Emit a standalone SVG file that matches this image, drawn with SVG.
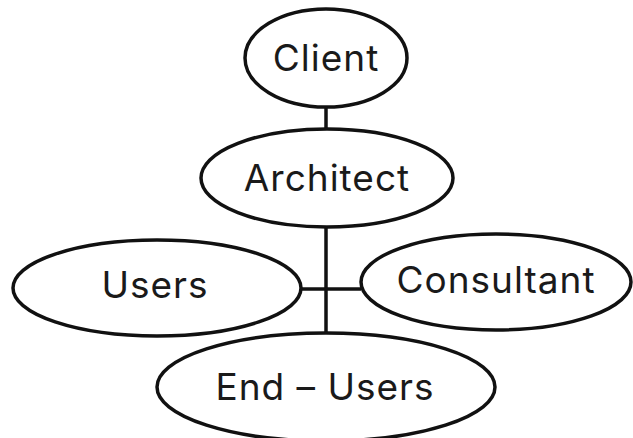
<svg xmlns="http://www.w3.org/2000/svg" width="633" height="438" viewBox="0 0 633 438">
  <style>
    .node ellipse { fill: #ffffff; stroke: #111111; stroke-width: 3.5; }
    .node text { font-family: Inter, "Liberation Sans", sans-serif; font-size: 37px; letter-spacing: 1px; fill: #1a1a1a; text-anchor: middle; }
    .links line { stroke: #111111; stroke-width: 3.5; }
  </style>
  <rect width="633" height="438" fill="#ffffff"/>

  <!-- connectors -->
  <g id="connectors" class="links">
    <line x1="326" y1="106" x2="326" y2="130"/>
    <line x1="326" y1="226" x2="326" y2="334"/>
    <line x1="300" y1="289" x2="361" y2="289"/>
  </g>

  <g id="client" class="node">
    <ellipse cx="326" cy="58" rx="81" ry="49"/>
    <text x="326" y="71">Client</text>
  </g>

  <g id="architect" class="node">
    <ellipse cx="327" cy="178" rx="126" ry="49"/>
    <text x="327" y="191">Architect</text>
  </g>

  <g id="users" class="node">
    <ellipse cx="157" cy="288" rx="144" ry="48"/>
    <text x="155" y="298">Users</text>
  </g>

  <g id="consultant" class="node">
    <ellipse cx="496" cy="282" rx="135" ry="48"/>
    <text x="496" y="293">Consultant</text>
  </g>

  <g id="end-users" class="node">
    <ellipse cx="326" cy="387" rx="169" ry="54"/>
    <text x="325" y="400">End – Users</text>
  </g>
</svg>
